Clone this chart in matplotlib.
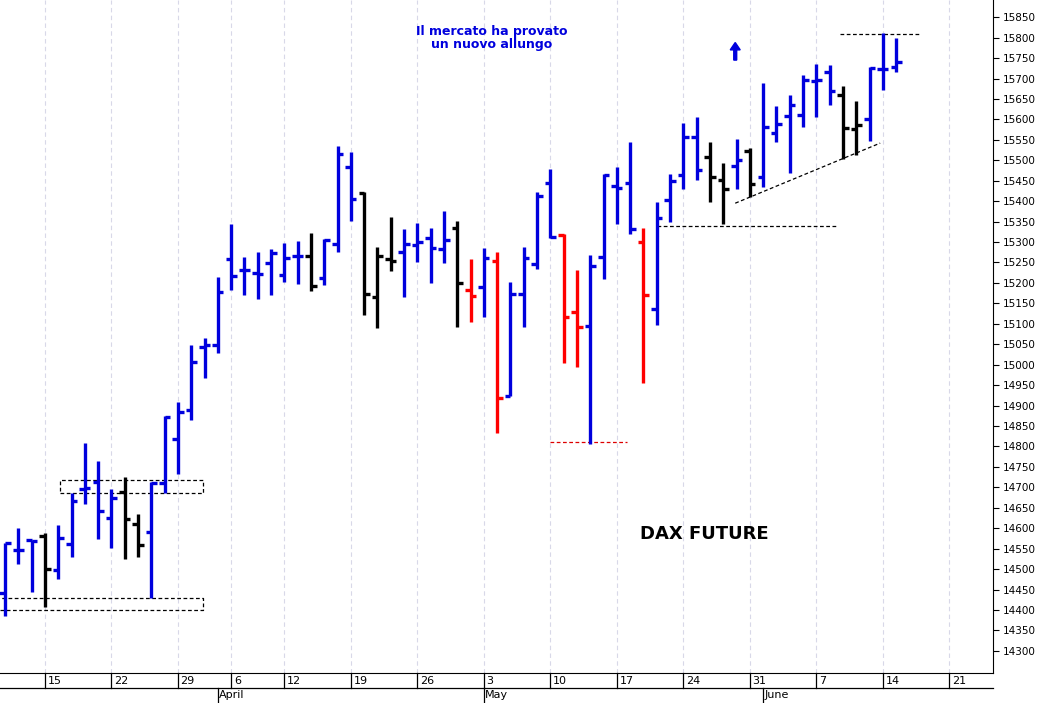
import matplotlib
matplotlib.use("Agg")
import matplotlib.pyplot as plt
import matplotlib.transforms as mtrans

# trading-day index (0 = 15 March 2021)
idx = list(range(-3, 65))
opens = [14442,14547,14571,14581,14498,14561,14696,14713,14625,14689,14610,14591,14711,14818,
         14889,15043,15048,15258,15231,15224,15249,15219,15266,15266,15212,15295,15483,15420,
         15165,15258,15275,15293,15310,15283,15334,15183,15190,15253,14923,15173,15246,15444,
         15317,15129,15095,15263,15437,15444,15300,15136,15403,15464,15557,15508,15451,15486,
         15522,15459,15566,15608,15610,15694,15716,15659,15576,15601,15723,15728]
highs = [14564,14601,14571,14588,14608,14686,14808,14764,14696,14725,14635,14713,14874,14909,
         15048,15065,15214,15344,15263,15275,15283,15297,15302,15322,15307,15535,15520,15422,
         15288,15361,15332,15346,15334,15376,15351,15258,15285,15275,15202,15288,15422,15478,
         15319,15231,15268,15466,15483,15544,15334,15398,15466,15591,15605,15544,15493,15552,
         15530,15689,15632,15659,15708,15735,15733,15681,15645,15728,15811,15799]
lows = [14385,14513,14444,14407,14476,14530,14659,14574,14552,14525,14530,14429,14686,14733,
        14865,14967,15028,15183,15170,15161,15170,15202,15197,15180,15195,15275,15351,15121,
        15090,15229,15165,15251,15200,15249,15092,15104,15116,14833,14923,15092,15234,15310,
        15004,14994,14806,15209,15344,15319,14955,15097,15349,15429,15451,15398,15344,15429,
        15410,15434,15544,15469,15581,15605,15635,15503,15513,15547,15672,15716]
closes = [14564,14547,14569,14500,14576,14667,14698,14642,14674,14623,14559,14711,14872,14884,
          15006,15048,15178,15217,15231,15221,15273,15261,15266,15192,15305,15515,15405,15173,
          15266,15253,15295,15300,15285,15305,15200,15168,15261,14918,15173,15261,15412,15312,
          15116,15092,15241,15464,15432,15332,15170,15359,15449,15557,15476,15459,15429,15500,
          15442,15581,15588,15635,15696,15696,15669,15579,15586,15725,15723,15740]
colors = (['b']*3 + ['k'] + ['b']*5 + ['k','k'] + ['b']*12 + ['k'] + ['b']*3 + ['k']*3 +
          ['b']*4 + ['k','r','b','r'] + ['b']*4 + ['r','r'] + ['b']*4 + ['r'] + ['b']*4 +
          ['k','k','b','k'] + ['b']*6 + ['k','k'] + ['b']*3)
cmap = {'b': '#0000dd', 'k': '#000000', 'r': '#ff0000'}

week_idx = [-5, 0, 5, 10, 14, 18, 23, 28, 33, 38, 43, 48, 53, 58, 63, 68]
week_lbl = ['8', '15', '22', '29', '6', '12', '19', '26', '3', '10', '17', '24', '31', '7', '14', '21']
month_idx = [13, 33, 54]
month_lbl = ['April', 'May', 'June']
yticks = list(range(14300, 15851, 50))

fig = plt.figure(figsize=(10.42, 7.03), dpi=100)
ax = fig.add_axes([0, 1-673/703, 993/1042, 673/703])
x0 = -3.38
xmax = x0 + 993/13.3
ax.set_xlim(x0, xmax)
ax.set_ylim(14246, 15892)

for w in week_idx:
    ax.axvline(w, color='#d8d8e8', lw=0.8, ls=(0, (4, 3)), zorder=0)

tk = 0.42
for i, o, h, l, c, col in zip(idx, opens, highs, lows, closes, colors):
    cc = cmap[col]
    ax.vlines(i, l, h, color=cc, lw=2.4, zorder=3)
    ax.hlines(o, i - tk, i, color=cc, lw=2.4, zorder=3)
    ax.hlines(c, i, i + tk, color=cc, lw=2.4, zorder=3)

dk = dict(color='k', lw=0.9, ls=(0, (3, 2)), zorder=2)
ax.plot([1.1, 11.9, 11.9, 1.1, 1.1], [14686, 14686, 14718, 14718, 14686], **dk)
ax.plot([x0, 11.9, 11.9, x0], [14400, 14400, 14429, 14429], **dk)
ax.plot([38, 43.8], [14810, 14810], color='#dd0000', lw=0.9, ls=(0, (3, 2)))
ax.plot([46, 59.6], [15340, 15340], **dk)
ax.plot([59.8, 65.8], [15810, 15810], **dk)
ax.plot([51.9, 62.8], [15395, 15542], **dk)

ax.text(33.6, 15800, 'Il mercato ha provato\nun nuovo allungo', color='#0000dd',
        fontsize=9, fontweight='bold', ha='center', va='center', linespacing=1.0)
ax.text(49.6, 14585, 'DAX FUTURE', color='k', fontsize=13, fontweight='bold',
        ha='center', va='center')
ax.arrow(51.9, 15745, 0, 25, width=0.22, head_width=0.75, head_length=18,
         length_includes_head=False, color='#0000dd', zorder=4)

ax.yaxis.tick_right()
ax.set_yticks(yticks)
ax.set_yticklabels([str(v) for v in yticks], fontsize=7.5)
ax.tick_params(axis='y', direction='out', length=4, pad=3)
ax.set_xticks([])
for s in ['top', 'left']:
    ax.spines[s].set_visible(False)

# date rows below the plot
tr = mtrans.blended_transform_factory(ax.transData, fig.transFigure)
yb, ym, yt = 1-673/703, 1-688/703, 0.0
fig.add_artist(plt.Line2D([0, 993/1042], [ym, ym], color='k', lw=0.9, transform=fig.transFigure))
for w, lb in zip(week_idx, week_lbl):
    if x0 < w < xmax:
        fig.add_artist(plt.Line2D([w, w], [ym, yb], color='k', lw=0.9, transform=tr))
        fig.text(w + 0.2, (ym + yb) / 2, lb, fontsize=8, ha='left', va='center', transform=tr)
for m, lb in zip(month_idx, month_lbl):
    fig.add_artist(plt.Line2D([m, m], [yt, ym], color='k', lw=0.9, transform=tr))
    fig.text(m + 0.1, ym / 2, lb, fontsize=8, ha='left', va='center', transform=tr)

fig.savefig('out.png', dpi=100)
